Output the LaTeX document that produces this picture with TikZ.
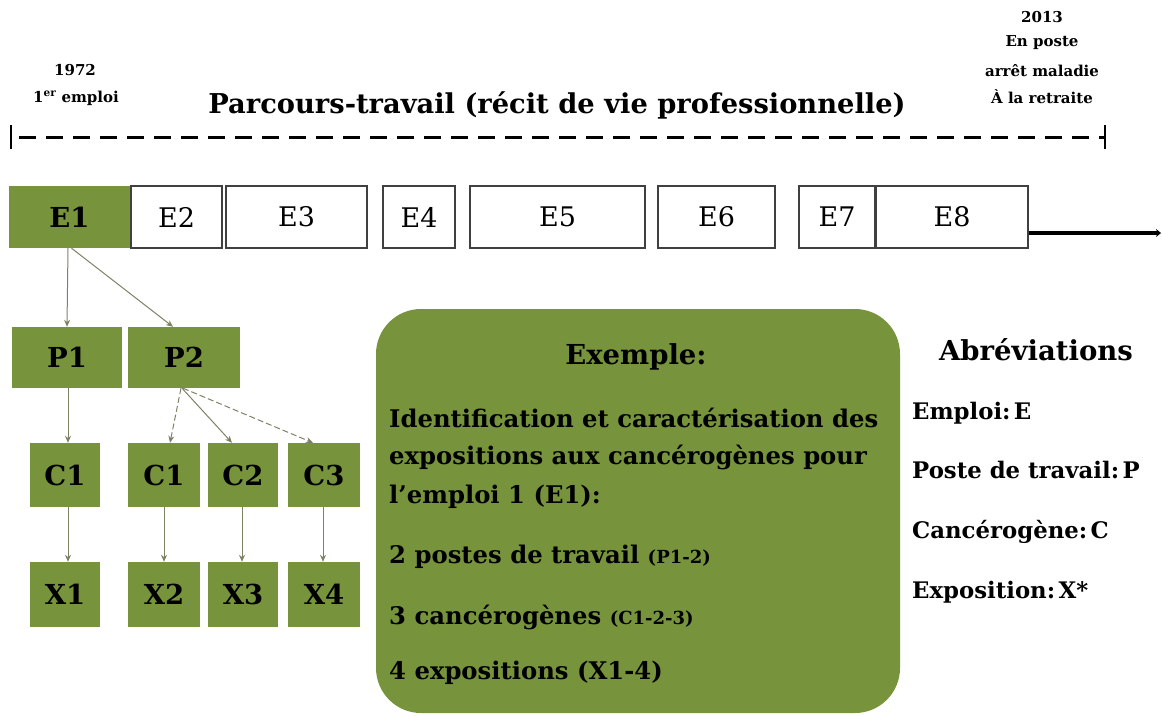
\documentclass[tikz,border=0pt]{standalone}
\usepackage{fontspec}
\setmainfont{DejaVu Serif}
\usetikzlibrary{arrows.meta,calc}
\definecolor{olivegr}{RGB}{119,147,60}
\definecolor{linkgr}{RGB}{125,130,100}
\tikzset{
  gbox/.style={fill=olivegr,draw=none,inner sep=0pt,font=\fontsize{27.5}{30}\selectfont\bfseries},
  ebox/.style={fill=white,draw=black!75,line width=1.4pt,inner sep=0pt,font=\fontsize{27}{30}\selectfont},
  link/.style={draw=linkgr,line width=1pt,-{Stealth[length=7pt,width=6pt]}},
  dlink/.style={link,dash pattern=on 6pt off 3pt},
  toplbl/.style={font=\fontsize{15}{17}\selectfont\bfseries,inner sep=0pt},
  boxtxt/.style={anchor=west,inner sep=0pt,font=\fontsize{24.3}{27}\selectfont\bfseries},
  abbr/.style={anchor=west,inner sep=0pt,font=\fontsize{22.8}{26}\selectfont\bfseries}
}
\newcommand{\smallpar}[1]{{\fontsize{18}{20}\selectfont #1}}
\begin{document}
\begin{tikzpicture}[x=1pt,y=-1pt]
\useasboundingbox (0,0) rectangle (1162,715);
% top labels
\node[toplbl] (y1972) at (75,70) {1972};
\node[toplbl] (first) at (76,98) {1\textsuperscript{er} emploi};
\node[toplbl] (y2013) at (1042,17) {2013};
\node[toplbl] (poste) at (1042,43) {En poste};
\node[toplbl] (arret) at (1042,71) {arrêt maladie};
\node[toplbl] (retr) at (1042,97) {À la retraite};
\node[inner sep=0pt,font=\fontsize{27.3}{30}\selectfont\bfseries] (title) at (557,105) {Parcours-travail (récit de vie professionnelle)};
% dashed timeline
\coordinate (tl) at (11,137);
\coordinate (tr) at (1105,137);
\draw[line width=3pt,dash pattern=on 17pt off 10pt,dash phase=-8pt] (tl) -- (tr);
\draw[line width=2pt] ($(tl)+(0,-12)$) -- ($(tl)+(0,12)$);
\draw[line width=2pt] ($(tr)+(0,-12)$) -- ($(tr)+(0,12)$);
% E boxes
\node[gbox,minimum width=121pt,minimum height=62pt] (E1) at (69.5,217) {E1};
\node[ebox,minimum width=91pt,minimum height=62pt] (E2) at (176.5,217) {E2};
\node[ebox,minimum width=141pt,minimum height=62pt] (E3) at (296.5,217) {E3};
\node[ebox,minimum width=72pt,minimum height=62pt] (E4) at (419,217) {E4};
\node[ebox,minimum width=175pt,minimum height=62pt] (E5) at (557.5,217) {E5};
\node[ebox,minimum width=117pt,minimum height=62pt] (E6) at (716.5,217) {E6};
\node[ebox,minimum width=76pt,minimum height=62pt] (E7) at (837,217) {E7};
\node[ebox,minimum width=152pt,minimum height=62pt] (E8) at (952,217) {E8};
\coordinate (tend) at (1161,233);
\draw[line width=4pt,-{Stealth[length=5pt,width=8pt]}] (E8.east |- tend) -- (tend);
% P boxes
\node[gbox,minimum width=110pt,minimum height=61pt] (P1) at (67,357.5) {P1};
\node[gbox,minimum width=112pt,minimum height=61pt] (P2) at (184,357.5) {P2};
% C boxes
\node[gbox,minimum width=70pt,minimum height=64pt] (C1) at (65,475) {C1};
\node[gbox,minimum width=72pt,minimum height=64pt] (C1b) at (164,475) {C1};
\node[gbox,minimum width=70pt,minimum height=64pt] (C2) at (243,475) {C2};
\node[gbox,minimum width=72pt,minimum height=64pt] (C3) at (324,475) {C3};
% X boxes
\node[gbox,minimum width=70pt,minimum height=65pt] (X1) at (65,594.5) {X1};
\node[gbox,minimum width=72pt,minimum height=65pt] (X2) at (164,594.5) {X2};
\node[gbox,minimum width=70pt,minimum height=65pt] (X3) at (243,594.5) {X3};
\node[gbox,minimum width=72pt,minimum height=65pt] (X4) at (324,594.5) {X4};
% links
\draw[link] ($(E1.south)+(-1.5,0)$) -- (P1.north);
\draw[link] ($(E1.south)+(2,0)$) -- ($(P2.north)+(-11,0)$);
\draw[link] ($(P1.south)+(1,0)$) -- ($(C1.north)+(3,0)$);
\draw[dlink] ($(P2.south)+(-3,0)$) -- ($(C1b.north)+(6,0)$);
\draw[link] ($(P2.south)+(-2,0)$) -- ($(C2.north)+(-11,0)$);
\draw[dlink] ($(P2.south)+(-1,0)$) -- ($(C3.north)+(-11,0)$);
\draw[link] ($(C1.south)+(3,0)$) -- ($(X1.north)+(3,0)$);
\draw[link] (C1b.south) -- (X2.north);
\draw[link] ($(C2.south)+(-1,0)$) -- ($(X3.north)+(-1,0)$);
\draw[link] ($(C3.south)+(-1,0)$) -- ($(X4.north)+(-1,0)$);
% example box
\node[fill=olivegr,draw=none,rounded corners=45pt,minimum width=524pt,minimum height=404pt,inner sep=0pt] (ex) at (638,511) {};
\node[inner sep=0pt,font=\fontsize{27.5}{30}\selectfont\bfseries] (exh) at (636,357) {Exemple:};
\node[boxtxt] (l1) at (389,418) {Identification et caractérisation des};
\node[boxtxt] (l2) at (389,457) {expositions aux cancérogènes pour};
\node[boxtxt] (l3) at (389,497) {l’emploi 1 (E1):};
\node[boxtxt] (l4) at (389,557) {2 postes de travail \smallpar{(P1-2)}};
\node[boxtxt] (l5) at (389,617) {3 cancérogènes \smallpar{(C1-2-3)}};
\node[boxtxt] (l6) at (389,673) {4 expositions (X1-4)};
% abbreviations
\node[inner sep=0pt,font=\fontsize{27.5}{30}\selectfont\bfseries] (abh) at (1036,350) {Abréviations};
\node[abbr] (a1) at (912,413) {Emploi:\hspace{0.15em}E};
\node[abbr] (a2) at (912,470) {Poste de travail:\hspace{0.15em}P};
\node[abbr] (a3) at (912,532) {Cancérogène:\hspace{0.15em}C};
\node[abbr] (a4) at (912,592) {Exposition:\hspace{0.15em}X*};
\end{tikzpicture}
\end{document}
